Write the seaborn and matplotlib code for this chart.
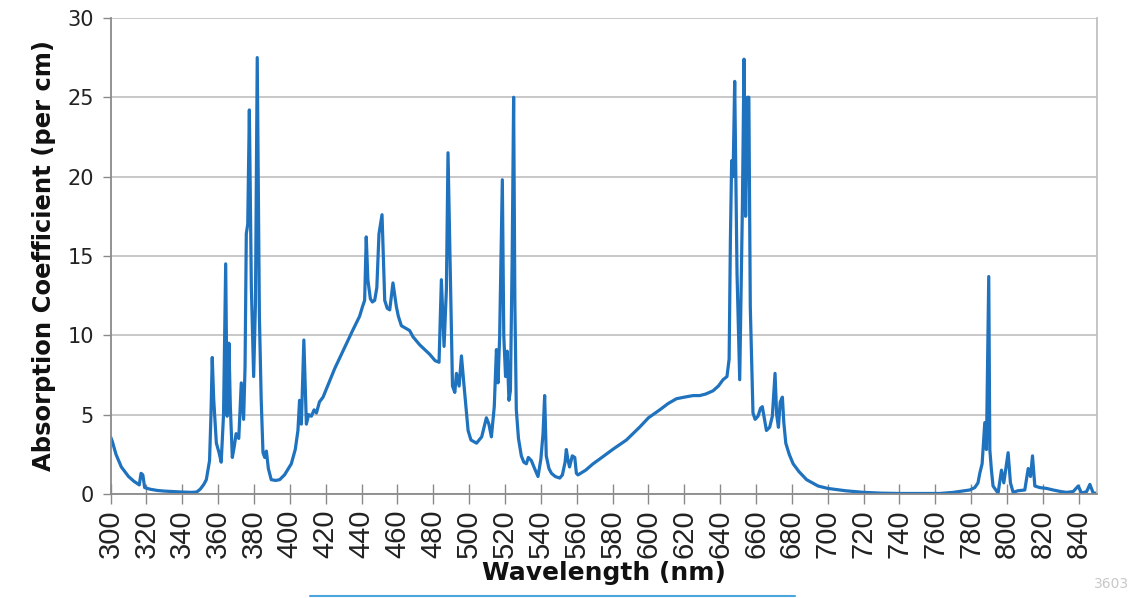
import numpy as np
import pandas as pd
import seaborn as sns
import matplotlib.pyplot as plt
from matplotlib.lines import Line2D

sns.set_theme(style="white")
plt.rcParams['font.family'] = ['DejaVu Sans']

# values (wavelength in nm, absorption per cm)
wavelength = [
    300, 301, 303, 306, 310, 313, 316, 317, 318, 319, 322, 326, 330, 335, 340, 345, 348,
    350, 352, 353.4, 355.2, 356, 356.7, 357.5, 359, 360.5, 361.7, 363, 364.2, 365, 366,
    366.8, 367.9, 369, 370, 371.5, 372.9, 374.2, 375, 375.7, 376.5, 377.4, 378.5, 379.8,
    380.8, 381.8, 383, 384, 385, 386, 386.9, 388, 389.6, 392, 394.3, 397, 400.8, 403,
    404.5, 405.4, 406.4, 407.8, 409.2, 410.5, 412, 413.5, 414.8, 416.5, 418.5, 425, 430,
    435, 438.9, 440.5, 441.7, 442.6, 443.5, 444.9, 446, 447.3, 448.5, 449.7, 451.4, 452.9,
    454.3, 455.7, 457.5, 459.4, 460.5, 462.2, 466.8, 468.7, 472.4, 478, 481, 483.2, 484.5,
    486, 487.3, 488.2, 489.6, 490.7, 492, 492.9, 494.4, 495.7, 497, 499.4, 501, 504.1,
    507, 509.6, 511, 512.4, 514, 515.2, 516.1, 517, 518.5, 519.3, 520.3, 521.2, 522.2,
    523, 524, 524.8, 525.5, 526.3, 527.5, 529.1, 530.5, 531.9, 533, 534.7, 536.5, 538.4,
    540, 541.2, 542.1, 543, 544.5, 545.9, 548, 550.5, 552, 553.5, 554.2, 555, 556, 557.5,
    558.9, 559.8, 560.7, 565, 569.1, 572.8, 580, 587.7, 595, 600, 606.3, 611, 615.6, 620,
    624.9, 628.6, 632, 636, 639, 641.6, 643.8, 645, 645.7, 646.4, 647.2, 648.1, 649.4,
    650.9, 652.4, 653.3, 654.2, 655.2, 656, 656.8, 658.3, 659.5, 661.1, 662.5, 663.5,
    665.8, 667.6, 669.1, 670.6, 671.5, 672.5, 673.5, 674.7, 675.5, 676.6, 678.5, 680.7,
    684, 688.2, 694.6, 700, 710, 720, 730, 740, 750, 762.5, 770, 779.2, 782, 783.8, 784.8,
    786.1, 787, 787.6, 788.5, 789.8, 790.4, 791.3, 792.2, 795, 796.9, 798.2, 799.7, 800.6,
    801.9, 803.4, 806, 809.9, 811.8, 813.1, 814.2, 815.5, 818.3, 822, 825.7, 830, 833.2,
    836.9, 839.7, 841.6, 844.4, 846.2, 848.1, 850,
]
absorption = [
    3.6, 3.3, 2.5, 1.7, 1.1, 0.8, 0.57, 1.3, 1.2, 0.4, 0.3, 0.22, 0.18, 0.15, 0.12, 0.1, 0.12,
    0.3, 0.6, 0.9, 2.1, 5.0, 8.6, 6.0, 3.2, 2.6, 2.0, 5.0, 14.5, 4.9, 9.5,
    5.5, 2.3, 3.0, 3.8, 3.5, 7.0, 4.7, 8.0, 16.4, 17.0, 24.2, 13.1, 7.4,
    12.0, 27.5, 11.2, 6.0, 2.6, 2.3, 2.7, 1.6, 0.9, 0.85, 0.9, 1.2, 1.9, 2.8,
    4.0, 5.9, 4.4, 9.7, 4.4, 5.0, 4.9, 5.3, 5.1, 5.8, 6.1, 7.9, 9.1,
    10.3, 11.2, 11.8, 12.2, 16.2, 13.5, 12.3, 12.1, 12.2, 13.0, 16.4, 17.6, 12.2,
    11.7, 11.6, 13.3, 11.8, 11.2, 10.6, 10.3, 9.9, 9.4, 8.8, 8.4, 8.3, 13.5,
    9.3, 12.9, 21.5, 13.1, 6.8, 6.4, 7.6, 6.8, 8.7, 7.0, 4.0, 3.4, 3.2,
    3.6, 4.8, 4.4, 3.6, 5.5, 9.1, 7.0, 9.9, 19.8, 10.0, 7.4, 9.0, 5.9,
    6.5, 15.0, 25.0, 12.0, 5.3, 3.5, 2.4, 2.0, 1.9, 2.3, 2.1, 1.6, 1.1,
    2.2, 3.8, 6.2, 2.4, 1.6, 1.3, 1.1, 1.0, 1.2, 2.0, 2.8, 2.2, 1.7, 2.4,
    2.3, 1.3, 1.2, 1.5, 1.9, 2.2, 2.8, 3.4, 4.2, 4.8, 5.3, 5.7, 6.0, 6.1,
    6.2, 6.2, 6.3, 6.5, 6.8, 7.2, 7.4, 8.5, 16.0, 21.0, 20.0, 26.0, 13.9,
    7.2, 18.1, 27.4, 17.5, 25.0, 25.0, 11.8, 5.1, 4.7, 4.9, 5.4, 5.5,
    4.0, 4.2, 4.9, 7.6, 5.0, 4.2, 5.8, 6.1, 4.5, 3.2, 2.5, 1.9,
    1.4, 0.9, 0.5, 0.35, 0.2, 0.1, 0.05, 0.03, 0.03, 0.03, 0.1, 0.25, 0.4, 0.7, 1.3,
    1.9, 3.5, 4.5, 2.8, 13.7, 2.8, 1.5, 0.5, 0.05, 1.5, 0.7, 1.9, 2.6,
    0.7, 0.1, 0.2, 0.25, 1.6, 1.1, 2.4, 0.5, 0.4, 0.35, 0.25, 0.15, 0.1,
    0.15, 0.5, 0.05, 0.15, 0.6, 0.05, 0.05,
]
x_ticks = list(range(300, 841, 20))
y_ticks = [0, 5, 10, 15, 20, 25, 30]

df = pd.DataFrame({"wavelength": wavelength, "absorption": absorption})

fig, ax = plt.subplots(figsize=(11.4, 5.98), dpi=100)
fig.subplots_adjust(left=0.097, right=0.962, top=0.970, bottom=0.174)

sns.lineplot(data=df, x="wavelength", y="absorption", ax=ax, color="#1f72bd",
             linewidth=2.3, estimator=None, sort=False)

ax.set_xlim(300, 850)
ax.set_ylim(0, 30)
ax.set_xticks(x_ticks)
ax.set_yticks(y_ticks)
ax.yaxis.grid(True, color="#c4c4c4", linewidth=1.3)
ax.set_axisbelow(True)

for side in ["left", "bottom"]:
    ax.spines[side].set_color("#8a8a8a")
    ax.spines[side].set_linewidth(1.3)
ax.spines["right"].set_color("#c0c0c0")
ax.spines["right"].set_linewidth(1.3)
ax.spines["top"].set_visible(False)

ax.tick_params(axis="x", direction="inout", length=14, width=1.0, color="#8a8a8a",
               bottom=True, pad=4)
ax.tick_params(axis="y", direction="out", length=6, width=1.0, color="#8a8a8a",
               left=True, labelsize=15, labelcolor="#222222", pad=6)
for lab in ax.get_xticklabels():
    lab.set_rotation(90)
    lab.set_family(["Liberation Sans Narrow", "Liberation Sans"])
    lab.set_fontsize(21)
    lab.set_color("#222222")

ax.set_xlabel("Wavelength (nm)", fontsize=18, fontweight="bold", color="#111111", labelpad=2)
ax.set_ylabel("Absorption Coefficient (per cm)", fontsize=17.5, fontweight="bold",
              color="#111111", labelpad=8)

# thin blue rule under the axis title and faint corner mark, as in the source image
fig.add_artist(Line2D([0.272, 0.697], [0.004, 0.004], transform=fig.transFigure,
                      color="#4aa6dc", linewidth=1.5))
fig.text(0.975, 0.012, "3603", fontsize=10, color="#c8c8c8", ha="center", va="bottom")

fig.savefig("out.png", dpi=100)
